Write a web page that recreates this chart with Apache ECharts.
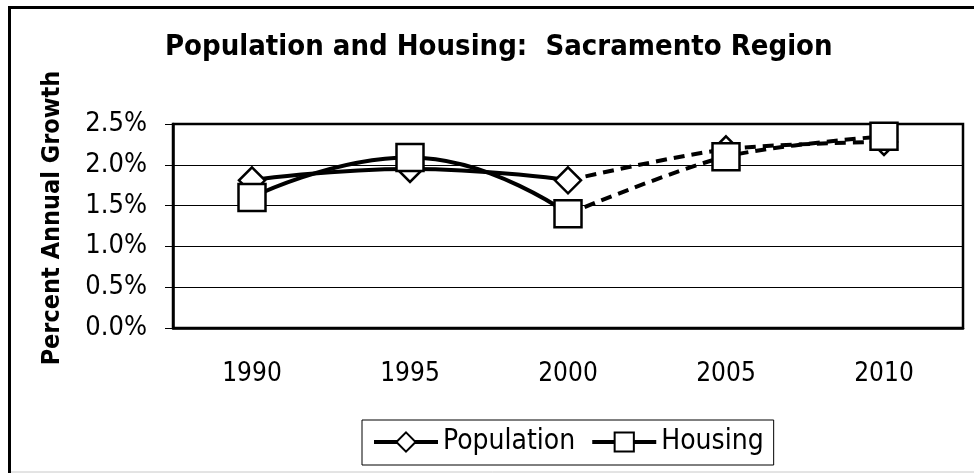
<!DOCTYPE html>
<html>
<head>
<meta charset="utf-8">
<script src="https://cdn.jsdelivr.net/npm/echarts@6/dist/echarts.min.js"></script>
<style>
  html, body { margin: 0; padding: 0; background: #fff; }
  #chart { width: 974px; height: 473px; }
</style>
</head>
<body>
<div id="chart"></div>
<script>
// 数据
var years = ['1990', '1995', '2000', '2005', '2010'];
var population = [1.81, 1.95, 1.81, 2.19, 2.28];
var housing = [1.60, 2.09, 1.40, 2.10, 2.35];
var yTicks = [0, 0.5, 1.0, 1.5, 2.0, 2.5];

var FONT = '"DejaVu Sans Condensed", "DejaVu Sans", sans-serif';

// 实线部分到2000年，虚线部分从2000年开始
function firstPart(arr){
    return arr.map(function(v, i){ return i <= 2 ? v : '-'; });
}
function secondPart(arr){
    return arr.map(function(v, i){
        if(i < 2) return '-';
        if(i == 2) return {value: v, symbol: 'none'};
        return v;
    });
}

var chart = echarts.init(document.getElementById('chart'), null, {renderer: 'canvas'});

var lineBase = {color: '#000', width: 4};
var itemBase = {color: '#fff', borderColor: '#000', borderWidth: 2.5};
var dashed = {color: '#000', width: 4, type: [11, 7]};

var option = {
    animation: false,
    backgroundColor: '#fff',
    title: {
        text: 'Population and Housing:  Sacramento Region',
        left: 160,
        top: 28,
        textStyle: {fontFamily: FONT, fontWeight: 'bold', fontSize: 29, color: '#000'}
    },
    grid: {
        left: 173, right: 11, top: 124, bottom: 145,
        show: true, borderColor: '#000', borderWidth: 2.5
    },
    legend: {
        data: ['Population', 'Housing'],
        left: 362, top: 420,
        itemWidth: 64, itemHeight: 24, itemGap: 15,
        padding: [8, 10, 9, 10],
        borderColor: '#000', borderWidth: 1,
        lineStyle: {width: 4},
        itemStyle: {borderWidth: 2},
        textStyle: {fontFamily: FONT, fontSize: 28, color: '#000'}
    },
    xAxis: {
        type: 'category',
        data: years,
        boundaryGap: true,
        axisLine: {lineStyle: {color: '#000', width: 2.5}},
        axisTick: {length: 8, lineStyle: {color: '#000', width: 1}},
        axisLabel: {fontFamily: FONT, fontSize: 26, color: '#000', margin: 33}
    },
    yAxis: {
        type: 'value',
        min: yTicks[0], max: yTicks[yTicks.length - 1], interval: 0.5,
        name: 'Percent Annual Growth',
        nameLocation: 'middle',
        nameRotate: 90,
        nameGap: 108,
        nameTextStyle: {fontFamily: FONT, fontWeight: 'bold', fontSize: 25, color: '#000', padding: [0, 0, 0, 16]},
        axisLine: {show: true, lineStyle: {color: '#000', width: 2.5}},
        axisTick: {show: true, length: 8, lineStyle: {color: '#000', width: 1}},
        splitLine: {lineStyle: {color: '#000', width: 1}},
        axisLabel: {
            fontFamily: FONT, fontSize: 27, color: '#000', margin: 26,
            formatter: function(v){ return v.toFixed(1) + '%'; }
        }
    },
    graphic: [
        {type: 'line', shape: {x1: 9.5, y1: 7.5, x2: 974, y2: 7.5}, style: {stroke: '#000', lineWidth: 3}, z: 100},
        {type: 'line', shape: {x1: 9.5, y1: 6, x2: 9.5, y2: 473}, style: {stroke: '#000', lineWidth: 3}, z: 100},
        {type: 'line', shape: {x1: 11, y1: 472, x2: 974, y2: 472}, style: {stroke: '#c8c8c8', lineWidth: 1}, z: 100}
    ],
    series: [
        {
            name: 'Population', type: 'line', data: firstPart(population),
            smooth: 0.5, symbol: 'diamond', symbolSize: 26,
            lineStyle: lineBase, itemStyle: itemBase, z: 3
        },
        {
            name: 'Population-proj', type: 'line', data: secondPart(population),
            smooth: 0.3, symbol: 'diamond', symbolSize: 26,
            lineStyle: dashed, itemStyle: itemBase, z: 3
        },
        {
            name: 'Housing', type: 'line', data: firstPart(housing),
            smooth: 0.5, symbol: 'rect', symbolSize: 27,
            lineStyle: lineBase, itemStyle: itemBase, z: 4
        },
        {
            name: 'Housing-proj', type: 'line', data: secondPart(housing),
            smooth: 0.3, symbol: 'rect', symbolSize: 27,
            lineStyle: dashed, itemStyle: itemBase, z: 4
        }
    ]
};

chart.setOption(option);
</script>
</body>
</html>
